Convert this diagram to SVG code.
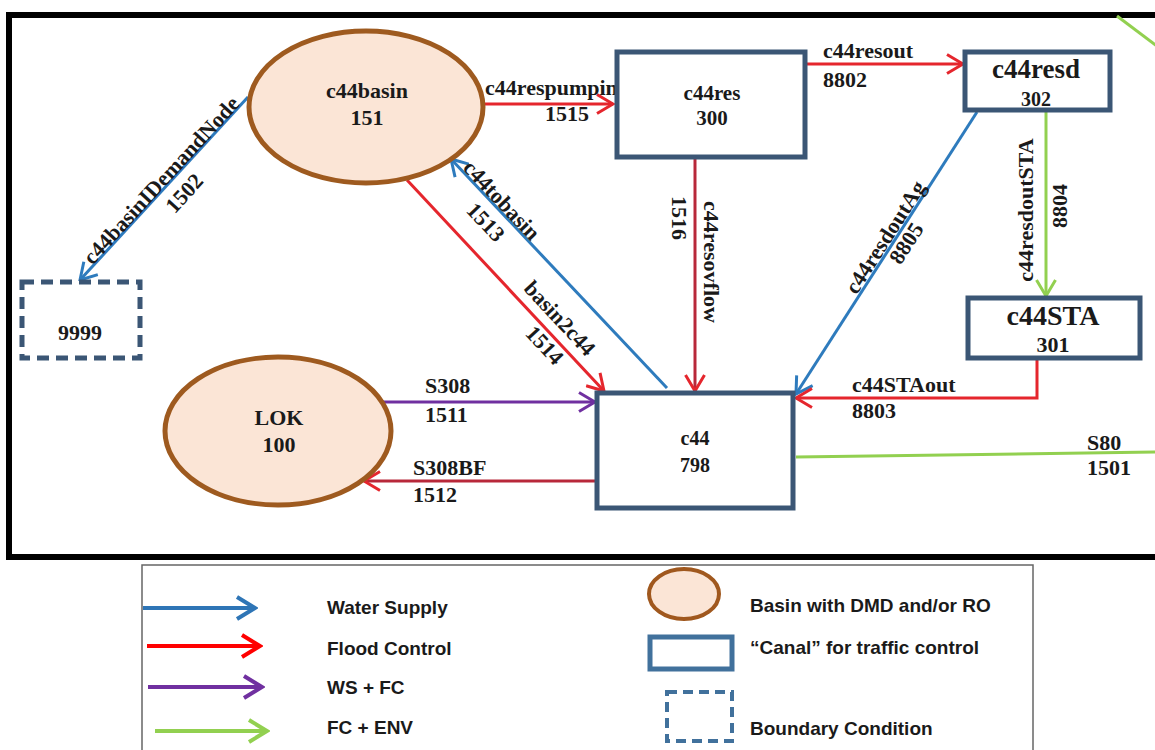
<svg xmlns="http://www.w3.org/2000/svg" width="1155" height="750" viewBox="0 0 1155 750">
<defs>
<style>
.lbl{font-family:"Liberation Serif","Times New Roman",serif;font-weight:bold;font-size:22px;fill:#1a1a1a}
.nl{font-family:"Liberation Serif","Times New Roman",serif;font-weight:bold;fill:#1a1a1a;text-anchor:middle}
.leg{font-family:"Liberation Sans",Arial,sans-serif;font-weight:bold;font-size:19px;fill:#1a1a1a}
.basin{fill:#fbe5d6;stroke:#9e5a1f;stroke-width:5}
.canal{fill:#ffffff;stroke:#3b5675;stroke-width:5}
.bnd{fill:#ffffff;stroke:#3b5675;stroke-width:5;stroke-dasharray:12 7}
.ws{fill:none;stroke:#2e7bbd;stroke-width:3}
.fc{fill:none;stroke:#e5262d;stroke-width:3}
.fcd{fill:none;stroke:#b8283a;stroke-width:3}
.wf{fill:none;stroke:#7030a0;stroke-width:3}
.env{fill:none;stroke:#92d050;stroke-width:3}
</style>
<marker id="mb" viewBox="0 0 20 22" refX="18" refY="11" markerWidth="20" markerHeight="22" markerUnits="userSpaceOnUse" orient="auto"><path d="M2,1.5 L18,11 L2,20.5" fill="none" stroke="#2e7bbd" stroke-width="3"/></marker>
<marker id="mr" viewBox="0 0 20 22" refX="18" refY="11" markerWidth="20" markerHeight="22" markerUnits="userSpaceOnUse" orient="auto"><path d="M2,1.5 L18,11 L2,20.5" fill="none" stroke="#e5262d" stroke-width="3"/></marker>
<marker id="mp" viewBox="0 0 20 22" refX="18" refY="11" markerWidth="20" markerHeight="22" markerUnits="userSpaceOnUse" orient="auto"><path d="M2,1.5 L18,11 L2,20.5" fill="none" stroke="#7030a0" stroke-width="3"/></marker>
<marker id="mg" viewBox="0 0 20 22" refX="18" refY="11" markerWidth="20" markerHeight="22" markerUnits="userSpaceOnUse" orient="auto"><path d="M2,1.5 L18,11 L2,20.5" fill="none" stroke="#92d050" stroke-width="3"/></marker>
<marker id="lb" viewBox="0 0 24 26" refX="21" refY="13" markerWidth="24" markerHeight="26" markerUnits="userSpaceOnUse" orient="auto"><path d="M3,2 L21,13 L3,24" fill="none" stroke="#2e75b6" stroke-width="4"/></marker>
<marker id="lr" viewBox="0 0 24 26" refX="21" refY="13" markerWidth="24" markerHeight="26" markerUnits="userSpaceOnUse" orient="auto"><path d="M3,2 L21,13 L3,24" fill="none" stroke="#ff0000" stroke-width="4"/></marker>
<marker id="lp" viewBox="0 0 24 26" refX="21" refY="13" markerWidth="24" markerHeight="26" markerUnits="userSpaceOnUse" orient="auto"><path d="M3,2 L21,13 L3,24" fill="none" stroke="#7030a0" stroke-width="4"/></marker>
<marker id="lg" viewBox="0 0 24 26" refX="21" refY="13" markerWidth="24" markerHeight="26" markerUnits="userSpaceOnUse" orient="auto"><path d="M3,2 L21,13 L3,24" fill="none" stroke="#92d050" stroke-width="4"/></marker>
</defs>
<rect width="1155" height="750" fill="#ffffff"/>
<!-- outer frame -->
<rect x="9" y="15" width="1170" height="542" fill="none" stroke="#000000" stroke-width="6"/>

<!-- connectors -->
<g id="connectors">
<line class="ws" x1="248" y1="97" x2="80" y2="280" marker-end="url(#mb)"/>
<line class="fc" x1="483" y1="104" x2="613" y2="104" marker-end="url(#mr)"/>
<line class="fc" x1="805" y1="64" x2="963" y2="64" marker-end="url(#mr)"/>
<line class="env" x1="1046" y1="110" x2="1046" y2="296" marker-end="url(#mg)"/>
<line class="ws" x1="977" y1="112" x2="796" y2="394" marker-end="url(#mb)"/>
<line class="fcd" x1="695" y1="157" x2="695" y2="391" marker-end="url(#mr)"/>
<line class="ws" x1="667" y1="388" x2="451" y2="159" marker-end="url(#mb)"/>
<line class="fc" x1="407" y1="180" x2="604" y2="391" marker-end="url(#mr)"/>
<line class="wf" x1="381" y1="402" x2="595" y2="402" marker-end="url(#mp)"/>
<line class="fcd" x1="597" y1="481" x2="364" y2="481" marker-end="url(#mr)"/>
<polyline class="fc" points="1037,358 1037,398 796,398" marker-end="url(#mr)"/>
<line class="env" x1="796" y1="457" x2="1160" y2="452"/>
<line class="env" x1="1117" y1="16" x2="1158" y2="47"/>

<text class="lbl" text-anchor="middle" transform="translate(161,180) rotate(-47.4)" dy="0.35em">c44basinIDemandNode</text>
<text class="lbl" text-anchor="middle" transform="translate(184,193) rotate(-47.4)" dy="0.35em">1502</text>
<text class="lbl" x="485" y="95">c44respumpin</text>
<text class="lbl" x="567" y="121" text-anchor="middle">1515</text>
<text class="lbl" x="823" y="58">c44resout</text>
<text class="lbl" x="823" y="87">8802</text>
<text class="lbl" text-anchor="middle" transform="translate(1025,210) rotate(-90)" dy="0.35em">c44resdoutSTA</text>
<text class="lbl" text-anchor="middle" transform="translate(1059,206) rotate(-90)" dy="0.35em">8804</text>
<text class="lbl" text-anchor="middle" transform="translate(885,237) rotate(-57.3)" dy="0.35em">c44resdoutAg</text>
<text class="lbl" text-anchor="middle" transform="translate(906,243) rotate(-57.3)" dy="0.35em">8805</text>
<text class="lbl" text-anchor="middle" transform="translate(712,262) rotate(90)" dy="0.35em">c44resovflow</text>
<text class="lbl" text-anchor="middle" transform="translate(680,218) rotate(90)" dy="0.35em">1516</text>
<text class="lbl" text-anchor="middle" transform="translate(502,200) rotate(46.6)" dy="0.35em">c44tobasin</text>
<text class="lbl" text-anchor="middle" transform="translate(486,222) rotate(46.6)" dy="0.35em">1513</text>
<text class="lbl" text-anchor="middle" transform="translate(560,318) rotate(47)" dy="0.35em">basin2c44</text>
<text class="lbl" text-anchor="middle" transform="translate(545,345) rotate(47)" dy="0.35em">1514</text>
<text class="lbl" x="425" y="393">S308</text>
<text class="lbl" x="425" y="422">1511</text>
<text class="lbl" x="413" y="475">S308BF</text>
<text class="lbl" x="413" y="502">1512</text>
<text class="lbl" x="852" y="392">c44STAout</text>
<text class="lbl" x="852" y="418">8803</text>
<text class="lbl" x="1087" y="450">S80</text>
<text class="lbl" x="1087" y="475">1501</text>
</g>

<!-- nodes -->
<g id="c44basin">
<ellipse class="basin" cx="366" cy="107" rx="117" ry="76"/>
<text class="nl" x="367" y="98" font-size="22">c44basin</text>
<text class="nl" x="367" y="125" font-size="22">151</text>
</g>
<g id="c44res">
<rect class="canal" x="617" y="52" width="188" height="105"/>
<text class="nl" x="712" y="100" font-size="21">c44res</text>
<text class="nl" x="712" y="125" font-size="21">300</text>
</g>
<g id="c44resd">
<rect class="canal" x="965" y="52" width="145" height="58"/>
<text class="nl" x="1036" y="78" font-size="27">c44resd</text>
<text class="nl" x="1036" y="106" font-size="20">302</text>
</g>
<g id="c44STA">
<rect class="canal" x="968" y="298" width="172" height="60"/>
<text class="nl" x="1053" y="325" font-size="28">c44STA</text>
<text class="nl" x="1053" y="352" font-size="22">301</text>
</g>
<g id="c44">
<rect class="canal" x="597" y="393" width="196" height="115"/>
<text class="nl" x="695" y="445" font-size="20">c44</text>
<text class="nl" x="695" y="472" font-size="20">798</text>
</g>
<g id="LOK">
<ellipse class="basin" cx="278" cy="431" rx="113" ry="74"/>
<text class="nl" x="279" y="425" font-size="22">LOK</text>
<text class="nl" x="279" y="452" font-size="22">100</text>
</g>
<g id="n9999">
<rect class="bnd" x="22" y="282" width="118" height="76"/>
<text class="nl" x="80" y="340" font-size="22">9999</text>
</g>

<!-- legend -->
<g id="legend">
<rect x="142" y="565" width="891" height="200" fill="#ffffff" stroke="#666666" stroke-width="1.5"/>
<line x1="143" y1="608" x2="255" y2="608" stroke="#2e75b6" stroke-width="4" marker-end="url(#lb)"/>
<line x1="147" y1="646" x2="260" y2="646" stroke="#ff0000" stroke-width="4" marker-end="url(#lr)"/>
<line x1="148" y1="687" x2="262" y2="687" stroke="#7030a0" stroke-width="4" marker-end="url(#lp)"/>
<line x1="155" y1="731" x2="267" y2="731" stroke="#92d050" stroke-width="4" marker-end="url(#lg)"/>
<text class="leg" x="327" y="614">Water Supply</text>
<text class="leg" x="327" y="655">Flood Control</text>
<text class="leg" x="327" y="694">WS + FC</text>
<text class="leg" x="327" y="734">FC + ENV</text>
<ellipse cx="684" cy="594" rx="35" ry="25" fill="#fbe5d6" stroke="#a0581e" stroke-width="4"/>
<rect x="650" y="637" width="82" height="32" fill="#ffffff" stroke="#41719c" stroke-width="5"/>
<rect x="667" y="692" width="65" height="49" fill="#ffffff" stroke="#41719c" stroke-width="4" stroke-dasharray="10 6"/>
<text class="leg" x="750" y="612">Basin with DMD and/or RO</text>
<text class="leg" x="750" y="654">“Canal” for traffic control</text>
<text class="leg" x="750" y="735">Boundary Condition</text>
</g>
</svg>
